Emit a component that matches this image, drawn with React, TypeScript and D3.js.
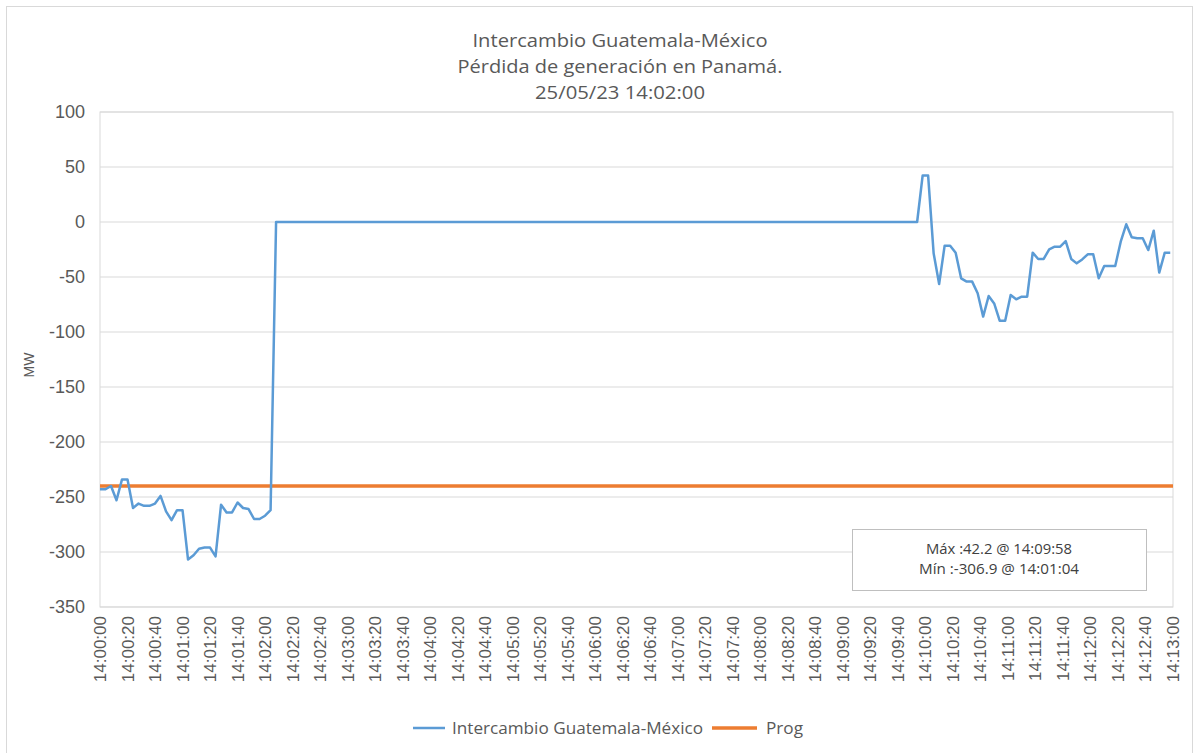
import React from "react";
import * as d3 from "d3";

// seconds after 14:00:00
const seriesTimes = [
  0, 4, 8, 12, 16, 20, 24, 28, 32, 36, 40, 44, 48, 52, 56, 60, 64, 68, 72, 76, 80, 84, 88, 92, 96, 100, 104, 108, 112, 116, 120, 124, 128,
  594, 598, 602, 606, 610, 614, 618, 622, 626, 630, 634, 638, 642, 646, 650, 654, 658, 662, 666, 670, 674, 678, 682, 686, 690, 694, 698,
  702, 706, 710, 714, 718, 722, 726, 730, 734, 738, 742, 746, 750, 754, 758, 762, 766, 770, 774, 778,
];
const seriesValues = [
  -243, -243, -240, -253, -234, -234, -260, -256, -258, -258, -256, -249, -263, -271, -262, -262, -306.9, -303, -297, -296, -296, -304, -257, -264, -264, -255, -260, -261, -270, -270, -267, -262, 0,
  0, 42.2, 42.2, -28.5, -56.4, -21.5, -21.5, -27.9, -51.2, -54.2, -54.2, -64.8, -86, -67.3, -74, -89.7, -89.7, -66.4, -70.3, -67.9, -67.9, -27.9, -33.6, -33.6, -24.8, -22.4, -22.4,
  -17.3, -33.6, -37.6, -34, -29.4, -29.4, -51.2, -40, -40, -40, -17.9, -2.1, -13.9, -14.8, -14.8, -25.5, -7.9, -46, -27.9, -27.9,
];
const progValue = -240;
const yTicks = [100, 50, 0, -50, -100, -150, -200, -250, -300, -350];
const xTickSeconds = d3.range(0, 781, 20);
const titleLines = ["Intercambio Guatemala-México", "Pérdida de generación en Panamá.", "25/05/23 14:02:00"];
const annotationLines = ["Máx :42.2 @ 14:09:58", "Mín :-306.9 @ 14:01:04"];
const seriesNames = ["Intercambio Guatemala-México", "Prog"];

const BLUE = "#5b9bd5";
const ORANGE = "#ed7d31";
const GRID = "#d9d9d9";
const TEXT = "#595959";

function fmtTime(s: number) {
  const m = Math.floor(s / 60);
  const sec = s % 60;
  return `14:${String(m).padStart(2, "0")}:${String(sec).padStart(2, "0")}`;
}

export default function App() {
  const left = 100, right = 1173, top = 112, bottom = 607;
  const x = d3.scaleLinear().domain([0, 780]).range([left, right]);
  const y = d3.scaleLinear().domain([-350, 100]).range([bottom, top]);
  const pts = seriesTimes.map((t, i) => [t, seriesValues[i]] as [number, number]);
  const line = d3.line<[number, number]>().x((d) => x(d[0])).y((d) => y(d[1]));
  const progPath = line([[0, progValue], [780, progValue]]) || "";
  const titleFont = "'Open Sans', 'Liberation Sans', sans-serif";
  const axisFont = "'Liberation Sans', Arial, sans-serif";
  const titleWidths = [295, 325, 170];
  const annWidths = [146, 160];

  return (
    <svg width={1200} height={753} style={{ position: "absolute", left: 0, top: 0, background: "#fff" }}>
      <rect x={6.5} y={6.5} width={1186} height={760} fill="#fff" stroke="#d9d9d9" />
      {/* title */}
      {titleLines.map((t, i) => (
        <text key={i} x={620} y={47 + i * 26} textAnchor="middle" fontFamily={titleFont} fontSize={18} fill={TEXT}
          textLength={titleWidths[i]} lengthAdjust="spacingAndGlyphs">
          {t}
        </text>
      ))}
      {/* gridlines */}
      {yTicks.map((v) => (
        <line key={v} x1={left} x2={right} y1={y(v)} y2={y(v)} stroke={GRID} strokeWidth={1} />
      ))}
      <rect x={left} y={top} width={right - left} height={bottom - top} fill="none" stroke={GRID} strokeWidth={1} />
      {/* y tick labels */}
      {yTicks.map((v) => (
        <text key={v} x={85} y={y(v) + 6} textAnchor="end" fontFamily={axisFont} fontSize={18} fill={TEXT}>
          {v}
        </text>
      ))}
      <text transform={`translate(34,365) rotate(-90)`} textAnchor="middle" fontFamily={axisFont} fontSize={14} fill={TEXT}>
        MW
      </text>
      {/* x tick labels */}
      {xTickSeconds.map((s) => (
        <text
          key={s}
          transform={`translate(${x(s) + 6},616) rotate(-90)`}
          textAnchor="end"
          fontFamily={axisFont}
          fontSize={17}
          fill={TEXT}
        >
          {fmtTime(s)}
        </text>
      ))}
      {/* series */}
      <path d={progPath} fill="none" stroke={ORANGE} strokeWidth={3.5} />
      <path d={line(pts) || ""} fill="none" stroke={BLUE} strokeWidth={2.5} strokeLinejoin="round" />
      {/* annotation */}
      <rect x={852.5} y={529.5} width={294} height={61} fill="#fff" stroke="#bfbfbf" />
      {annotationLines.map((t, i) => (
        <text key={i} x={999} y={554 + i * 20} textAnchor="middle" fontFamily={titleFont} fontSize={14} fill="#404040"
          textLength={annWidths[i]} lengthAdjust="spacingAndGlyphs">
          {t}
        </text>
      ))}
      {/* legend */}
      <line x1={413} x2={445} y1={728} y2={728} stroke={BLUE} strokeWidth={2.5} />
      <text x={452} y={734} fontFamily={titleFont} fontSize={16} fill={TEXT} textLength={251} lengthAdjust="spacingAndGlyphs">
        {seriesNames[0]}
      </text>
      <line x1={712} x2={757} y1={728} y2={728} stroke={ORANGE} strokeWidth={3.5} />
      <text x={766} y={734} fontFamily={titleFont} fontSize={16} fill={TEXT} textLength={37} lengthAdjust="spacingAndGlyphs">
        {seriesNames[1]}
      </text>
    </svg>
  );
}
